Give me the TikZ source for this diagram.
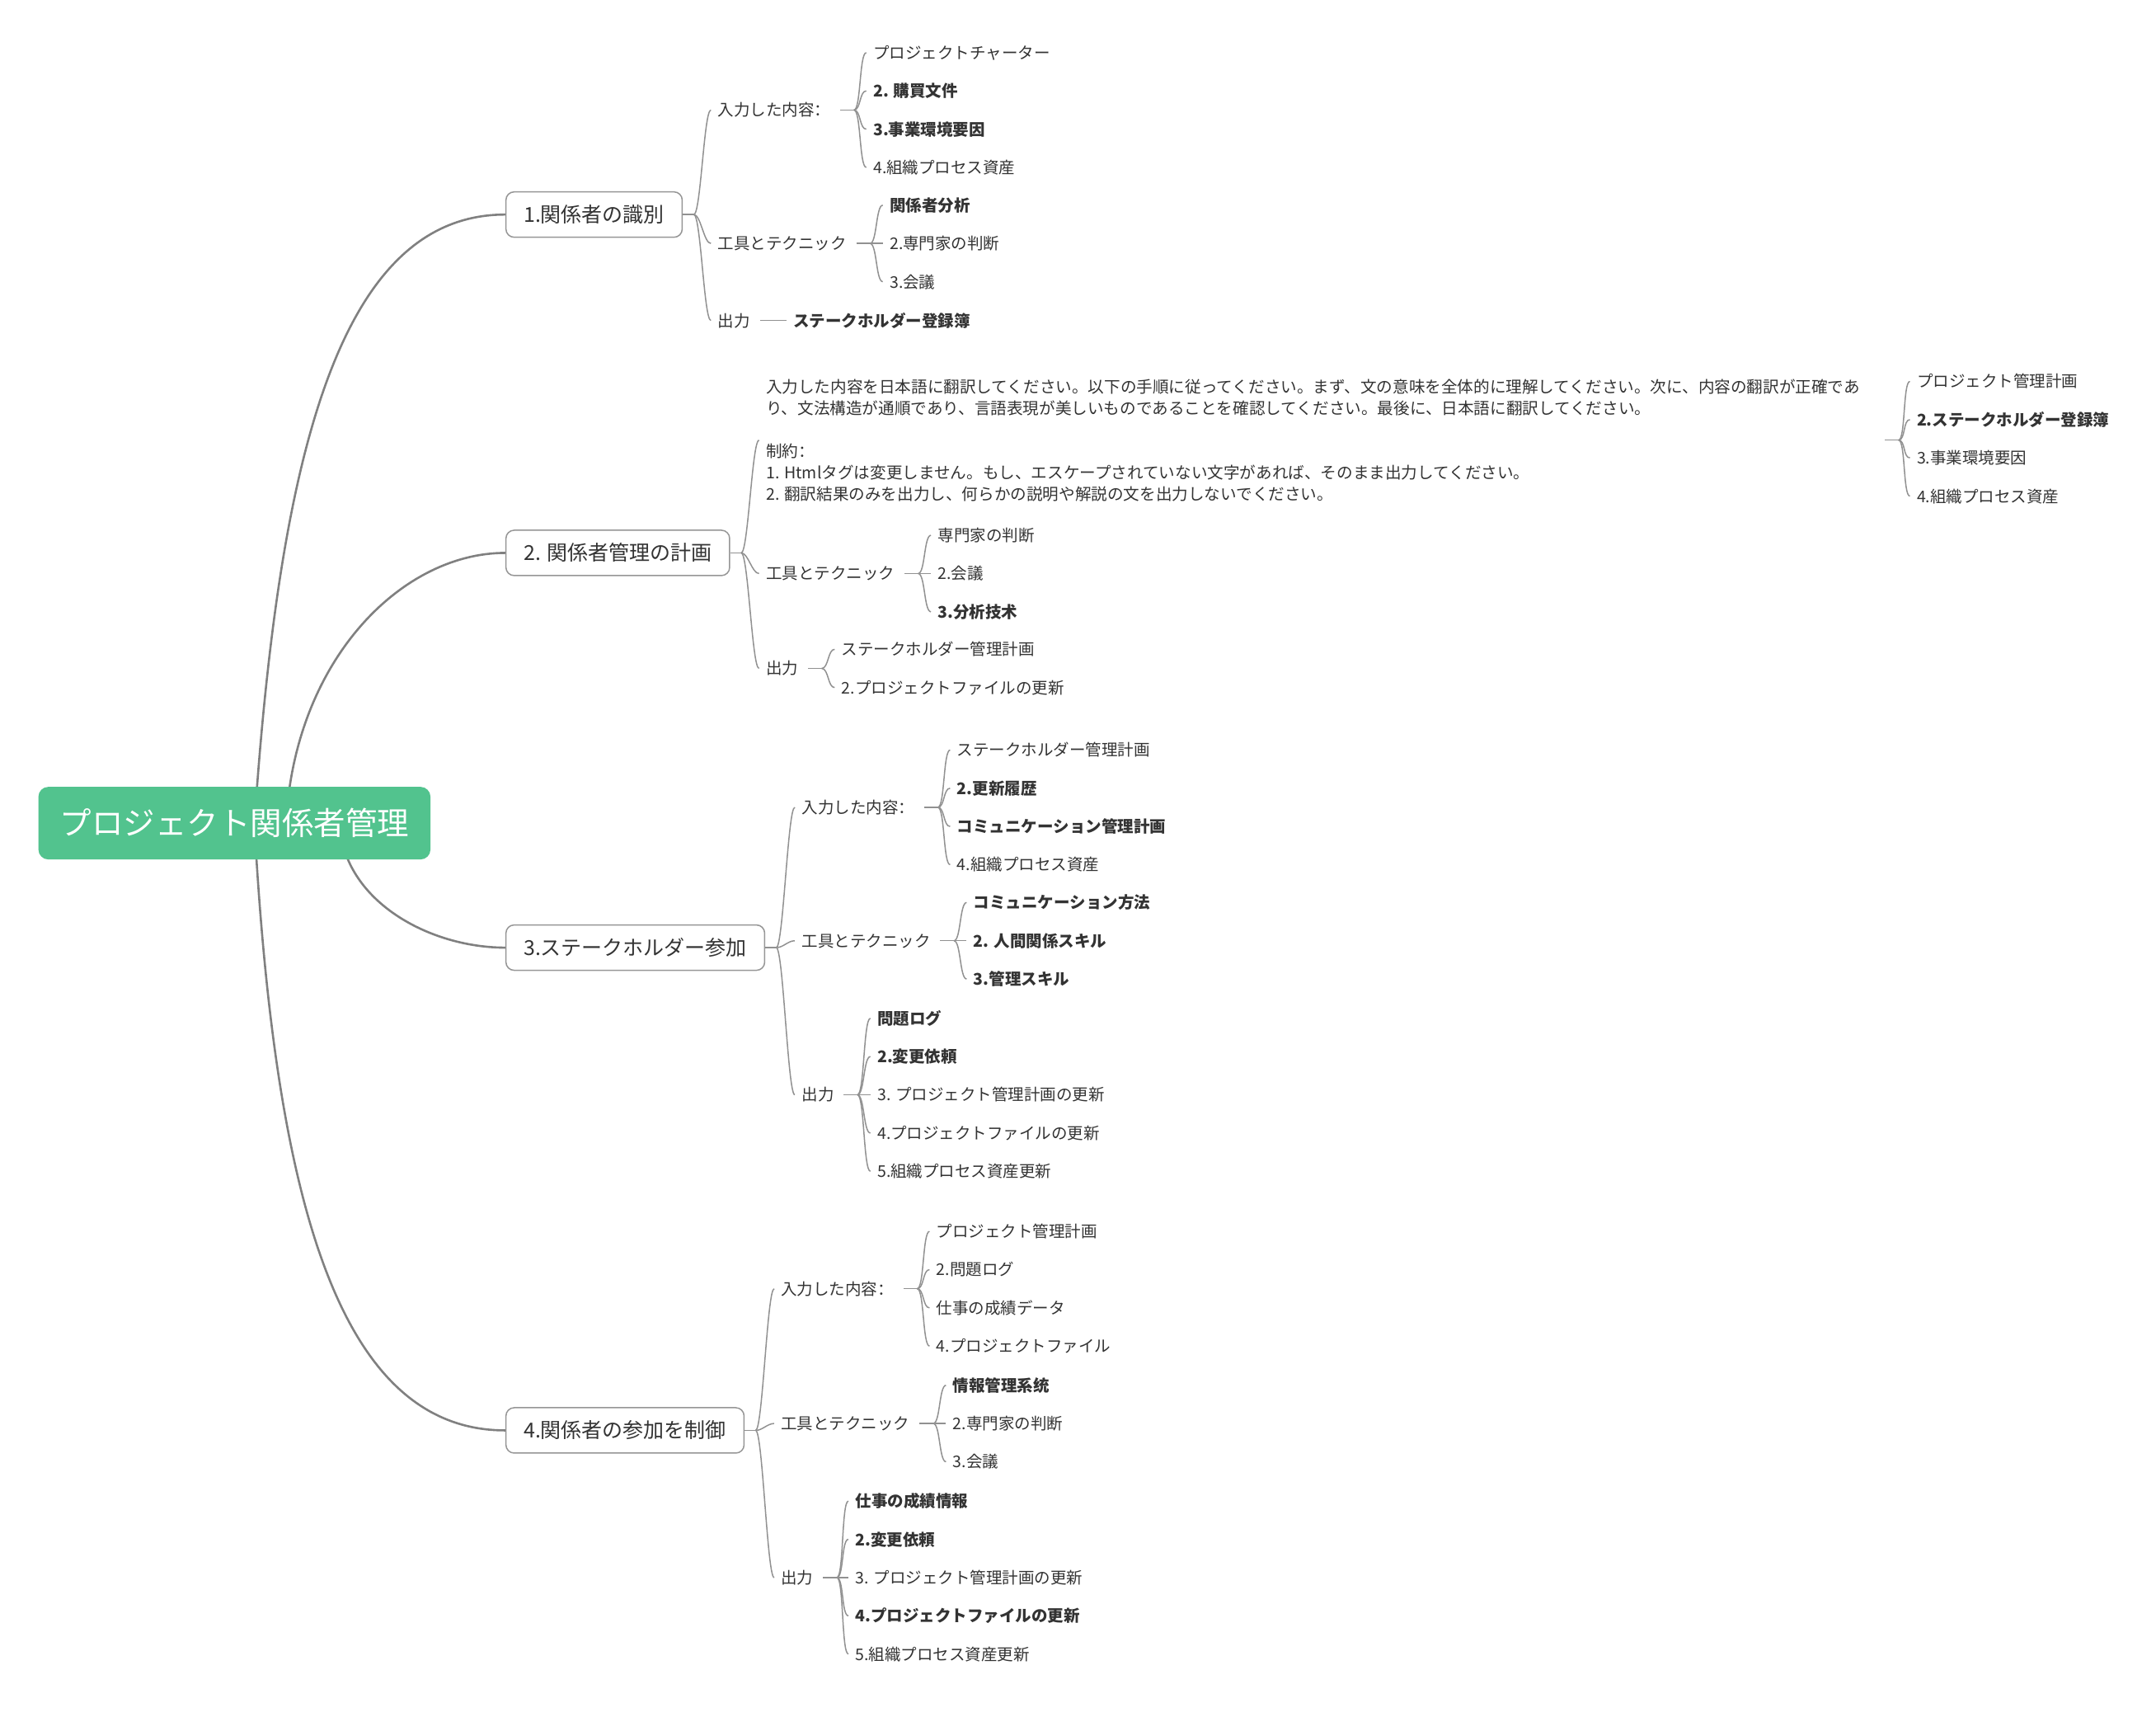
\documentclass[tikz,border=0pt]{standalone}
\usepackage{fontspec}
\setmainfont{Noto Sans CJK JP}
\newfontfamily\scfont{Noto Sans CJK SC}
\newcommand\fwcolon{{\scfont ：}}
\usetikzlibrary{calc}
\definecolor{rootgreen}{RGB}{82,195,142}
\definecolor{txt}{RGB}{51,51,51}
\definecolor{lineg}{RGB}{128,128,128}
\definecolor{subg}{RGB}{145,145,145}
\definecolor{boxg}{RGB}{150,150,150}
\newcommand\forkto[4]{%
  \draw[subline] ($(#1.east)+(#2,0)$) -- ++(#3,0) coordinate (F-#1);
  \foreach \ch in {#4}{\draw[subline] (F-#1) .. controls +(5,0) and +(-5,0) .. ($(\ch.west)+(-5,0)$);}%
}
\tikzset{
  leaf/.style={anchor=west, inner sep=0pt, text=txt, font=\fontsize{19.5}{23}\selectfont, text height=17.2pt, text depth=2.3pt},
  leafb/.style={leaf, font=\fontsize{19.5}{23}\selectfont\bfseries},
  lbl/.style={leaf},
  longtxt/.style={anchor=west, inner sep=0pt, text=txt, align=left, font=\fontsize{19.6}{26}\selectfont},
  branchbox/.style={anchor=west, draw=boxg, line width=1.5pt, fill=white, rounded corners=10pt, inner xsep=21.5pt, inner ysep=0pt, minimum height=55pt, text=txt, font=\fontsize{25}{30}\selectfont, text height=22pt, text depth=3pt},
  rootbox/.style={fill=rootgreen, rounded corners=12pt, inner xsep=26pt, inner ysep=0pt, minimum height=88pt, text=white, font=\fontsize{38.5}{46}\selectfont, text height=33.9pt, text depth=4.6pt},
  mainline/.style={draw=lineg, line width=2.6pt},
  subline/.style={draw=subg, line width=1.5pt},
}
\begin{document}
\begin{tikzpicture}[x=1.6677pt, y=-1.6677pt]
\fill[white] (0,0) rectangle (1568,1248);
\useasboundingbox (0,0) rectangle (1568,1248);

% ---------- branch 1 ----------
\node[branchbox] (b1) at (367.5,156) {1.関係者の識別};
\node[lbl] (b1i) at (522,80) {入力した内容\fwcolon};
\node[leaf] (b1i1) at (635,38.3) {プロジェクトチャーター};
\node[leafb] (b1i2) at (635,66.1) {2. 購買文件};
\node[leafb] (b1i3) at (635,93.9) {3.事業環境要因};
\node[leaf] (b1i4) at (635,121.7) {4.組織プロセス資産};
\node[lbl] (b1t) at (522,177) {工具とテクニック};
\node[leafb] (b1t1) at (647,149.2) {関係者分析};
\node[leaf] (b1t2) at (647,177) {2.専門家の判断};
\node[leaf] (b1t3) at (647,204.8) {3.会議};
\node[lbl] (b1o) at (522,233) {出力};
\node[leafb] (b1o1) at (577,233) {ステークホルダー登録簿};

% ---------- branch 2 ----------
\node[branchbox] (b2) at (367.5,402) {2.\hspace{0.3em}関係者管理の計画};
\node[longtxt] (b2i) at (557,320) {入力した内容を日本語に翻訳してください。以下の手順に従ってください。まず、文の意味を全体的に理解してください。次に、内容の翻訳が正確であ\\り、文法構造が通順であり、言語表現が美しいものであることを確認してください。最後に、日本語に翻訳してください。\\[26pt]制約\fwcolon\\1. Htmlタグは変更しません。もし、エスケープされていない文字があれば、そのまま出力してください。\\2. 翻訳結果のみを出力し、何らかの説明や解説の文を出力しないでください。};
\node[leaf] (b2i1) at (1394,277.3) {プロジェクト管理計画};
\node[leafb] (b2i2) at (1394,305.1) {2.ステークホルダー登録簿};
\node[leaf] (b2i3) at (1394,332.9) {3.事業環境要因};
\node[leaf] (b2i4) at (1394,360.7) {4.組織プロセス資産};
\node[lbl] (b2t) at (557,417) {工具とテクニック};
\node[leaf] (b2t1) at (682,389.2) {専門家の判断};
\node[leaf] (b2t2) at (682,417) {2.会議};
\node[leafb] (b2t3) at (682,444.8) {3.分析技术};
\node[lbl] (b2o) at (557,486) {出力};
\node[leaf] (b2o1) at (612,472.1) {ステークホルダー管理計画};
\node[leaf] (b2o2) at (612,499.9) {2.プロジェクトファイルの更新};

% ---------- branch 3 ----------
\node[branchbox] (b3) at (367.5,689) {3.ステークホルダー参加};
\node[lbl] (b3i) at (583,587) {入力した内容\fwcolon};
\node[leaf] (b3i1) at (696,545.3) {ステークホルダー管理計画};
\node[leafb] (b3i2) at (696,573.1) {2.更新履歴};
\node[leafb] (b3i3) at (696,600.9) {コミュニケーション管理計画};
\node[leaf] (b3i4) at (696,628.7) {4.組織プロセス資産};
\node[lbl] (b3t) at (583,684) {工具とテクニック};
\node[leafb] (b3t1) at (708,656.2) {コミュニケーション方法};
\node[leafb] (b3t2) at (708,684) {2. 人間関係スキル};
\node[leafb] (b3t3) at (708,711.8) {3.管理スキル};
\node[lbl] (b3o) at (583,796) {出力};
\node[leafb] (b3o1) at (638,740.4) {問題ログ};
\node[leafb] (b3o2) at (638,768.2) {2.変更依頼};
\node[leaf] (b3o3) at (638,796) {3. プロジェクト管理計画の更新};
\node[leaf] (b3o4) at (638,823.8) {4.プロジェクトファイルの更新};
\node[leaf] (b3o5) at (638,851.6) {5.組織プロセス資産更新};

% ---------- branch 4 ----------
\node[branchbox] (b4) at (367.5,1040) {4.関係者の参加を制御};
\node[lbl] (b4i) at (568,937) {入力した内容\fwcolon};
\node[leaf] (b4i1) at (681,895.3) {プロジェクト管理計画};
\node[leaf] (b4i2) at (681,923.1) {2.問題ログ};
\node[leaf] (b4i3) at (681,950.9) {仕事の成績データ};
\node[leaf] (b4i4) at (681,978.7) {4.プロジェクトファイル};
\node[lbl] (b4t) at (568,1035) {工具とテクニック};
\node[leafb] (b4t1) at (693,1007.2) {情報管理系统};
\node[leaf] (b4t2) at (693,1035) {2.専門家の判断};
\node[leaf] (b4t3) at (693,1062.8) {3.会議};
\node[lbl] (b4o) at (568,1147) {出力};
\node[leafb] (b4o1) at (622,1091.4) {仕事の成績情報};
\node[leafb] (b4o2) at (622,1119.2) {2.変更依頼};
\node[leaf] (b4o3) at (622,1147) {3. プロジェクト管理計画の更新};
\node[leafb] (b4o4) at (622,1174.8) {4.プロジェクトファイルの更新};
\node[leaf] (b4o5) at (622,1202.6) {5.組織プロセス資産更新};

% ---------- sub connectors ----------
\forkto{b1}{0}{8}{b1i,b1t,b1o}
\forkto{b1i}{7}{10}{b1i1,b1i2,b1i3,b1i4}
\forkto{b1t}{7}{10}{b1t1,b1t2,b1t3}
\forkto{b1o}{7}{10}{b1o1}
\forkto{b2}{0}{8}{b2i,b2t,b2o}
\forkto{b2i}{18}{10}{b2i1,b2i2,b2i3,b2i4}
\forkto{b2t}{7}{10}{b2t1,b2t2,b2t3}
\forkto{b2o}{7}{10}{b2o1,b2o2}
\forkto{b3}{0}{8}{b3i,b3t,b3o}
\forkto{b3i}{7}{10}{b3i1,b3i2,b3i3,b3i4}
\forkto{b3t}{7}{10}{b3t1,b3t2,b3t3}
\forkto{b3o}{7}{10}{b3o1,b3o2,b3o3,b3o4,b3o5}
\forkto{b4}{0}{8}{b4i,b4t,b4o}
\forkto{b4i}{7}{10}{b4i1,b4i2,b4i3,b4i4}
\forkto{b4t}{7}{10}{b4t1,b4t2,b4t3}
\forkto{b4o}{7}{10}{b4o1,b4o2,b4o3,b4o4,b4o5}

% ---------- main curves ----------
\coordinate (s1) at (185,599);
\coordinate (s2) at (208,599);
\coordinate (s3) at (247,599);
\coordinate (s4) at (185,599);
\draw[mainline] (s1) .. controls (203,333) and (246,156) .. (b1.west);
\draw[mainline] (s2) .. controls (214,480) and (292,402) .. (b2.west);
\draw[mainline] (s3) .. controls (250,655) and (312,689) .. (b3.west);
\draw[mainline] (s4) .. controls (200,872) and (246,1040) .. (b4.west);

% ---------- root ----------
\node[rootbox] (r) at (170.5,598.5) {プロジェクト関係者管理};
\end{tikzpicture}
\end{document}
